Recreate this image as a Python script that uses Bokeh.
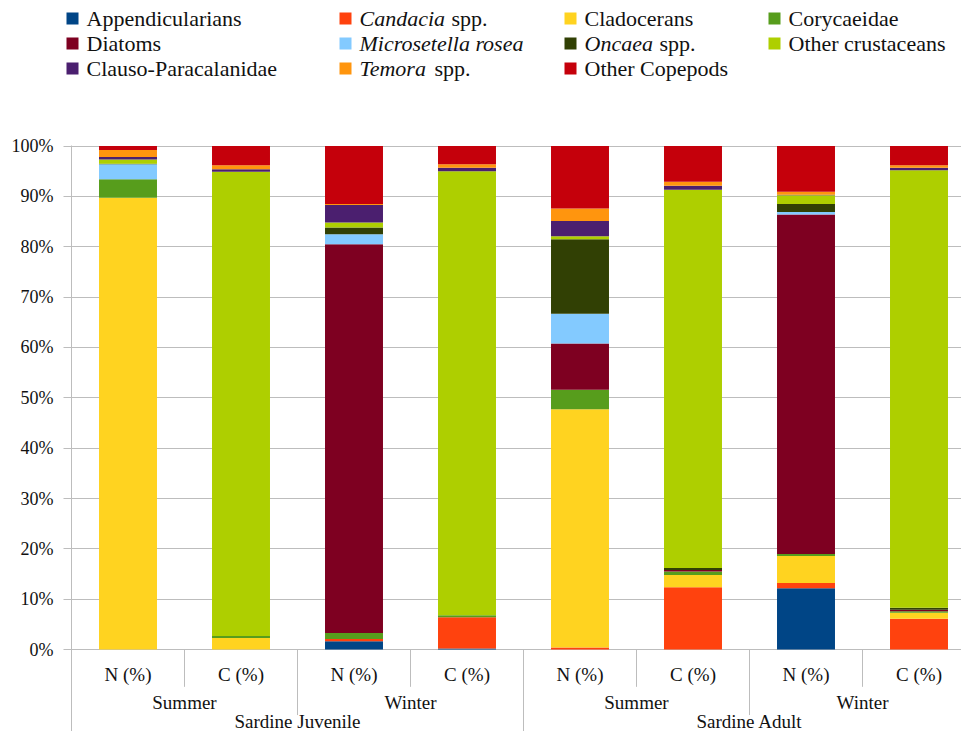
from bokeh.plotting import figure
from bokeh.models import Range1d, FixedTicker, PrintfTickFormatter, ColumnDataSource
from bokeh.embed import file_html
from bokeh.resources import INLINE
from bokeh.core.properties import value

# ---------------- data ----------------
bar_labels = ["N (%)", "C (%)", "N (%)", "C (%)", "N (%)", "C (%)", "N (%)", "C (%)"]
season_labels = ["Summer", "Winter", "Summer", "Winter"]
group_labels = ["Sardine Juvenile", "Sardine Adult"]

species = ["Appendicularians", "Candacia", "Cladocerans", "Corycaeidae", "Diatoms",
           "Microsetella", "Oncaea", "OtherCrustaceans", "Clauso", "Temora", "OtherCopepods"]
legend_italic = ["", "Candacia", "", "", "", "Microsetella rosea", "Oncaea", "", "", "Temora", ""]
legend_plain = ["Appendicularians", "spp.", "Cladocerans", "Corycaeidae", "Diatoms", "",
                "spp.", "Other crustaceans", "Clauso-Paracalanidae", "spp.", "Other Copepods"]
colors = ["#004586", "#ff420e", "#ffd320", "#579d1c", "#7e0021", "#83caff",
          "#314004", "#aecf00", "#4b1f6f", "#ff950e", "#c5000b"]

appendicularians = [0.0, 0.0, 1.65, 0.2, 0.0, 0.0, 12.2, 0.0]
candacia = [0.0, 0.0, 0.45, 6.2, 0.4, 12.4, 1.0, 6.1]
cladocerans = [89.7, 2.3, 0.0, 0.0, 47.3, 2.4, 5.4, 1.2]
corycaeidae = [3.7, 0.4, 1.2, 0.4, 3.9, 0.7, 0.4, 0.3]
diatoms = [0.0, 0.0, 77.2, 0.0, 9.2, 0.3, 67.4, 0.3]
microsetella = [3.0, 0.0, 2.0, 0.0, 5.9, 0.0, 0.5, 0.0]
oncaea = [0.1, 0.0, 1.3, 0.0, 14.8, 0.4, 1.6, 0.4]
other_crustaceans = [0.8, 92.2, 1.0, 88.2, 0.6, 75.1, 1.7, 86.9]
clauso = [0.5, 0.5, 3.5, 0.7, 3.0, 0.8, 0.1, 0.5]
temora = [1.4, 0.8, 0.2, 0.7, 2.5, 0.8, 0.6, 0.5]
other_copepods = [0.8, 3.8, 11.5, 3.6, 12.4, 7.1, 9.1, 3.8]

y_ticks = list(range(0, 101, 10))

# ---------------- styling ----------------
FONT = "'Liberation Serif', 'Times New Roman', 'DejaVu Serif', serif"
TXT = "#111111"
GRID = "#bdbdbd"
W = 961
H_LEG = 110
H_TOTAL = 731
FRAME_TOP = 145
FRAME_LEFT = 71
PX_PER_PCT = 5.04
ZERO_Y = 649

# ---------------- legend figure ----------------
leg = figure(width=W, height=H_LEG, output_backend="svg", toolbar_location=None,
             x_range=Range1d(0, W), y_range=Range1d(H_LEG, 0),
             x_axis_location=None, y_axis_location=None,
             min_border=0, min_border_left=0, min_border_right=0,
             min_border_top=0, min_border_bottom=0, outline_line_color=None)
leg.grid.visible = False

leg_fs = 22
col_x = [66, 339, 564, 768]
row_y = [18, 43, 68]
SQ = 12
# Times/Liberation Serif Italic advance widths (per 1000 em)
italic_w = {"C": 667, "a": 500, "n": 500, "d": 500, "c": 444, "i": 278, "M": 833, "r": 389,
            "o": 500, "s": 389, "e": 444, "t": 278, "l": 278, " ": 250, "O": 722, "T": 556, "m": 722}
space_w = 250

sq_x, sq_y = [], []
it_x, it_y, it_t = [], [], []
pl_x, pl_y, pl_t = [], [], []
for k in range(len(species)):
    r, c = divmod(k, 4)
    x0 = col_x[c]
    y0 = row_y[r]
    sq_x.append(x0 + SQ / 2)
    sq_y.append(y0)
    tx = x0 + SQ + 8
    if legend_italic[k]:
        it_x.append(tx); it_y.append(y0); it_t.append(legend_italic[k])
        tx += (sum(italic_w.get(ch, 500) for ch in legend_italic[k]) + space_w) * leg_fs / 1000.0 + 1
    if legend_plain[k]:
        pl_x.append(tx); pl_y.append(y0); pl_t.append(legend_plain[k])

leg.rect(x=sq_x, y=sq_y, width=SQ, height=SQ, width_units="screen", height_units="screen",
         fill_color=colors, line_color=None)
leg.text(x=it_x, y=it_y, text=it_t, text_font=value(FONT), text_font_size=f"{leg_fs}px",
         text_font_style="italic", text_align="left", text_baseline="middle", text_color=TXT)
leg.text(x=pl_x, y=pl_y, text=pl_t, text_font=value(FONT), text_font_size=f"{leg_fs}px",
         text_align="left", text_baseline="middle", text_color=TXT)

# ---------------- chart figure ----------------
H_CHART = H_TOTAL - H_LEG
n = len(bar_labels)
x_end = (W - FRAME_LEFT) / 113.0
y_start = -(H_TOTAL - ZERO_Y) / PX_PER_PCT
y_end = 100.1

p = figure(width=W, height=H_CHART, output_backend="svg", toolbar_location=None,
           x_range=Range1d(0, x_end), y_range=Range1d(y_start, y_end),
           x_axis_location=None, min_border_left=FRAME_LEFT, min_border_right=0,
           min_border_top=FRAME_TOP - H_LEG, min_border_bottom=0,
           outline_line_color=None, background_fill_color="white")
p.xgrid.visible = False
p.ygrid.ticker = FixedTicker(ticks=y_ticks)
p.ygrid.grid_line_color = GRID
p.ygrid.grid_line_width = 1

yax = p.yaxis[0]
yax.ticker = FixedTicker(ticks=y_ticks)
yax.formatter = PrintfTickFormatter(format="%d%%")
yax.axis_line_color = GRID
yax.major_tick_line_color = GRID
yax.major_tick_out = 8
yax.major_tick_in = 0
yax.minor_tick_line_color = None
yax.major_label_standoff = 10
yax.major_label_text_font = FONT
yax.major_label_text_font_size = "18px"
yax.major_label_text_color = TXT

data = dict(x=[i + 0.5 for i in range(n)],
            Appendicularians=appendicularians, Candacia=candacia, Cladocerans=cladocerans,
            Corycaeidae=corycaeidae, Diatoms=diatoms, Microsetella=microsetella, Oncaea=oncaea,
            OtherCrustaceans=other_crustaceans, Clauso=clauso, Temora=temora,
            OtherCopepods=other_copepods)
src = ColumnDataSource(data)
p.vbar_stack(stackers=species, x="x", width=0.513, source=src,
             fill_color=colors, line_color=None)

# category separators (below the zero line)
sep_x, sep_y1 = [], []
for b in range(1, n):
    sep_x.append(b)
    if b % 4 == 0:
        sep_y1.append(y_start)
    elif b % 2 == 0:
        sep_y1.append(-13.0)
    else:
        sep_y1.append(-7.4)
p.segment(x0=sep_x, y0=[0] * len(sep_x), x1=sep_x, y1=sep_y1, line_color=GRID, line_width=1)

# hierarchical category labels
AX_FS = "19px"
p.text(x=[i + 0.5 for i in range(n)], y=[-4.95] * n, text=bar_labels,
       text_font=value(FONT), text_font_size=AX_FS, text_align="center",
       text_baseline="middle", text_color=TXT)
p.text(x=[2 * i + 1 for i in range(len(season_labels))], y=[-10.6] * len(season_labels),
       text=season_labels, text_font=value(FONT), text_font_size=AX_FS,
       text_align="center", text_baseline="middle", text_color=TXT)
p.text(x=[4 * i + 2 for i in range(len(group_labels))], y=[-14.35] * len(group_labels),
       text=group_labels, text_font=value(FONT), text_font_size=AX_FS,
       text_align="center", text_baseline="middle", text_color=TXT)

open("out.html", "w").write(file_html([leg, p], INLINE))
